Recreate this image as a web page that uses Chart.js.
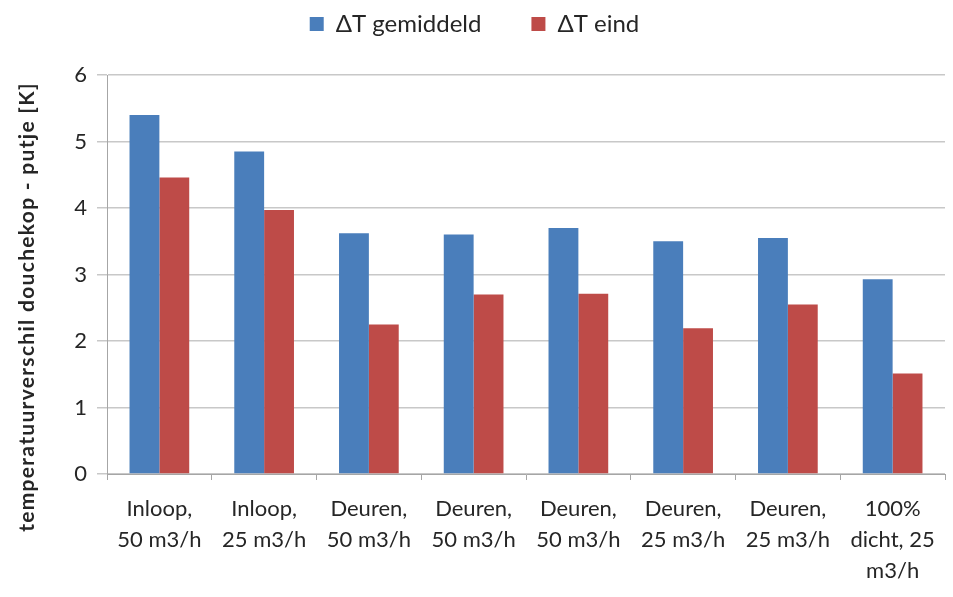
<!DOCTYPE html>
<html>
<head>
<meta charset="utf-8">
<script src="https://cdn.jsdelivr.net/npm/chart.js@4/dist/chart.umd.min.js"></script>
<style>
  html, body { margin: 0; padding: 0; background: #fff; }
  #wrap { width: 953px; height: 597px; }
</style>
</head>
<body>
<div id="wrap"><canvas id="grafiek" width="953" height="597"></canvas></div>
<script>
const categorieen = [
    ["Inloop,", "50 m3/h"],
    ["Inloop,", "25 m3/h"],
    ["Deuren,", "50 m3/h"],
    ["Deuren,", "50 m3/h"],
    ["Deuren,", "50 m3/h"],
    ["Deuren,", "25 m3/h"],
    ["Deuren,", "25 m3/h"],
    ["100%", "dicht, 25", "m3/h"]
];
const dtGemiddeld = [5.40, 4.85, 3.62, 3.60, 3.70, 3.50, 3.55, 2.93];
const dtEind = [4.46, 3.97, 2.25, 2.70, 2.71, 2.19, 2.55, 1.51];
const yTicks = [0, 1, 2, 3, 4, 5, 6];
const yTitel = "temperatuurverschil douchekop - putje [K]";

const tekstKleur = "#262626";
const lettertype = "Lato, 'Open Sans', sans-serif";

// legenda: extra ruimte eronder
const legendaMarge = {
    id: "legendaMarge",
    beforeInit(chart) {
        const fit = chart.legend.fit;
        chart.legend.fit = function () {
            fit.bind(chart.legend)();
            this.height += 29;
        };
    }
};

// y-as titel zelf tekenen (iets lager dan het midden, zoals in het origineel)
const asTitel = {
    id: "asTitel",
    afterDraw(chart) {
        const c = chart.ctx;
        c.save();
        c.translate(27, 307);
        c.rotate(-Math.PI / 2);
        c.font = "bold 21px " + lettertype;
        c.fillStyle = tekstKleur;
        c.textAlign = "center";
        c.textBaseline = "middle";
        if ("letterSpacing" in c) c.letterSpacing = "1.3px";
        c.fillText(yTitel, 0, 0);
        c.restore();
    }
};

document.addEventListener("DOMContentLoaded", () => {
    const ctx = document.getElementById("grafiek");

    new Chart(ctx, {
        type: "bar",
        data: {
            labels: categorieen,
            datasets: [{
                label: "\u0394T gemiddeld",
                data: dtGemiddeld,
                backgroundColor: "#4a7ebb",
                borderWidth: 0
            }, {
                label: "\u0394T eind",
                data: dtEind,
                backgroundColor: "#be4b48",
                borderWidth: 0
            }]
        },
        options: {
            responsive: false,
            animation: false,
            categoryPercentage: 0.57,
            barPercentage: 1.0,
            layout: { padding: { left: 4, right: 8, top: -38, bottom: 0 } },
            plugins: {
                legend: {
                    position: "top",
                    labels: {
                        boxWidth: 14,
                        boxHeight: 14,
                        padding: 50,
                        color: tekstKleur,
                        font: { family: lettertype, size: 24 }
                    }
                },
                tooltip: { enabled: false }
            },
            scales: {
                x: {
                    grid: {
                        offset: true,
                        drawOnChartArea: false,
                        drawTicks: true,
                        tickLength: 6,
                        color: "#a6a6a6"
                    },
                    border: { color: "#a6a6a6" },
                    ticks: {
                        color: tekstKleur,
                        maxRotation: 0,
                        autoSkip: false,
                        padding: 14,
                        font: { family: lettertype, size: 22, lineHeight: 1.4 }
                    },
                    afterFit: (scale) => { scale.height = 123; }
                },
                y: {
                    min: 0,
                    max: 6,
                    afterBuildTicks: (scale) => {
                        scale.ticks = yTicks.map(v => ({ value: v }));
                    },
                    grid: {
                        color: "#c8c8c8",
                        lineWidth: 1.5,
                        tickLength: 10
                    },
                    border: { color: "#a6a6a6" },
                    ticks: {
                        color: tekstKleur,
                        padding: 10,
                        font: { family: lettertype, size: 22 }
                    },
                    afterFit: (scale) => { scale.width = 103; }
                }
            }
        },
        plugins: [legendaMarge, asTitel]
    });
});
</script>
</body>
</html>
